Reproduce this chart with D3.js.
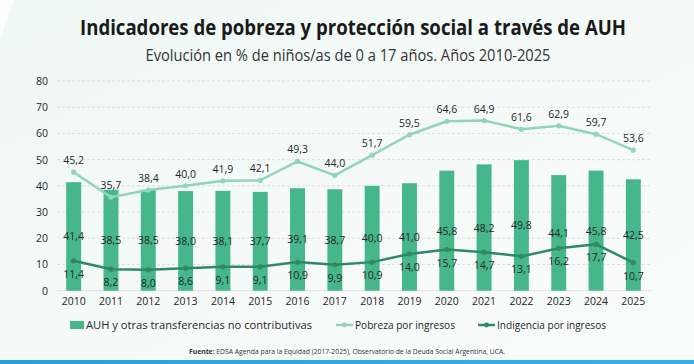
<!DOCTYPE html>
<html><head><meta charset="utf-8">
<script src="https://cdn.jsdelivr.net/npm/d3@7"></script>
<style>
html,body{margin:0;padding:0;background:#fff;}
svg{display:block;font-family:"Open Sans",sans-serif;}
</style></head>
<body><svg id="c" width="694" height="364"></svg>
<script>
const years = ["2010","2011","2012","2013","2014","2015","2016","2017","2018","2019","2020","2021","2022","2023","2024","2025"];
const auh = [41.4,38.5,38.5,38.0,38.1,37.7,39.1,38.7,40.0,41.0,45.8,48.2,49.8,44.1,45.8,42.5];
const pobreza = [45.2,35.7,38.4,40.0,41.9,42.1,49.3,44.0,51.7,59.5,64.6,64.9,61.6,62.9,59.7,53.6];
const indigencia = [11.4,8.2,8.0,8.6,9.1,9.1,10.9,9.9,10.9,14.0,15.7,14.7,13.1,16.2,17.7,10.7];
const yTicks = [0,10,20,30,40,50,60,70,80];
const title = "Indicadores de pobreza y protección social a través de AUH";
const subtitle = "Evolución en % de niños/as de 0 a 17 años. Años 2010-2025";
const seriesNames = ["AUH y otras transferencias no contributivas","Pobreza por ingresos","Indigencia por ingresos"];

const svg = d3.select("#c");
const W = 694, H = 364;
const cBar = "#46b68b", cPob = "#92d5b8", cInd = "#2f8a63", cText = "#262626";
const fmt = v => v.toFixed(1).replace(".", ",");

// background
const defs = svg.append("defs");
const g1 = defs.append("linearGradient").attr("id","bg").attr("x1","0").attr("y1","0").attr("x2","1").attr("y2","1");
g1.append("stop").attr("offset","0").attr("stop-color","#eef8f4");
g1.append("stop").attr("offset","0.5").attr("stop-color","#f5faf8");
g1.append("stop").attr("offset","1").attr("stop-color","#fafcfc");
svg.append("rect").attr("width",W).attr("height",H).attr("fill","url(#bg)");
svg.append("path").attr("d","M0,0 L14,0 L0,40 Z").attr("fill","#ffffff").attr("opacity",0.8);
const g2 = defs.append("linearGradient").attr("id","strip").attr("x1","0").attr("x2","1");
g2.append("stop").attr("offset","0").attr("stop-color","#2aa0d6");
g2.append("stop").attr("offset","1").attr("stop-color","#39b0e0");
svg.append("rect").attr("x",0).attr("y",360).attr("width",W).attr("height",4).attr("fill","url(#strip)");

// titles
svg.append("text").attr("x",353).attr("y",35).attr("text-anchor","middle")
  .attr("font-size",21).attr("font-weight",700).attr("fill","#1a1a1a")
  .attr("textLength",546).attr("lengthAdjust","spacingAndGlyphs").text(title);
svg.append("text").attr("x",348).attr("y",61).attr("text-anchor","middle")
  .attr("font-size",16).attr("fill","#333")
  .attr("textLength",405).attr("lengthAdjust","spacingAndGlyphs").text(subtitle);

// scales
const x = d3.scaleBand().domain(years).range([55,652]).paddingInner(0.6).paddingOuter(0.3);
const y = d3.scaleLinear().domain([0,80]).range([290.7,81]);

// grid
svg.append("g").selectAll("line").data(yTicks.filter(d=>d>0)).join("line")
  .attr("x1",57).attr("x2",652).attr("y1",d=>y(d)).attr("y2",d=>y(d))
  .attr("stroke","#d6d9d8").attr("stroke-width",0.8).attr("stroke-dasharray","3,2");
svg.append("line").attr("x1",57).attr("x2",652).attr("y1",y(0)).attr("y2",y(0))
  .attr("stroke","#d9d9d9").attr("stroke-width",0.8);

// y axis
const ya = svg.append("g").attr("transform","translate(48,0)")
  .call(d3.axisLeft(y).tickValues(yTicks).tickSize(0).tickPadding(0));
ya.select(".domain").remove();
ya.selectAll("text").attr("font-size",10.5).attr("fill",cText).attr("font-family","Open Sans");

// x axis
const xa = svg.append("g").attr("transform","translate(0,298)")
  .call(d3.axisBottom(x).tickSize(0).tickPadding(0));
xa.select(".domain").remove();
xa.selectAll("text").attr("font-size",10.5).attr("fill",cText).attr("font-family","Open Sans");

// bars
svg.append("g").selectAll("rect").data(auh).join("rect")
  .attr("x",(d,i)=>x(years[i])).attr("width",x.bandwidth())
  .attr("y",d=>y(d)).attr("height",d=>y(0)-y(d)).attr("fill",cBar);

const cx = i => x(years[i]) + x.bandwidth()/2;
const line = d3.line().x((d,i)=>cx(i)).y(d=>y(d));

// pobreza line
svg.append("path").datum(pobreza).attr("d",line).attr("fill","none").attr("stroke",cPob).attr("stroke-width",2.5);
svg.append("g").selectAll("circle").data(pobreza).join("circle")
  .attr("cx",(d,i)=>cx(i)).attr("cy",d=>y(d)).attr("r",2.6).attr("fill",cPob);
// indigencia line
svg.append("path").datum(indigencia).attr("d",line).attr("fill","none").attr("stroke",cInd).attr("stroke-width",2.5);
svg.append("g").selectAll("circle").data(indigencia).join("circle")
  .attr("cx",(d,i)=>cx(i)).attr("cy",d=>y(d)).attr("r",2.6).attr("fill",cInd);

// labels
const lab = (data, dy) => svg.append("g").selectAll("text").data(data).join("text")
  .attr("x",(d,i)=>cx(i)).attr("y",d=>dy(d)).attr("text-anchor","middle")
  .attr("font-size",10.5).attr("fill",cText).text(fmt);
lab(auh, d => (y(0)+y(d))/2 + 4);
lab(pobreza, d => y(d) - 8);
lab(indigencia, d => y(d) + 17);

// legend
const lg = svg.append("g");
lg.append("rect").attr("x",70).attr("y",321).attr("width",14).attr("height",8).attr("fill",cBar);
lg.append("text").attr("x",86).attr("y",329).attr("font-size",11.5).attr("fill",cText)
  .attr("textLength",226).attr("lengthAdjust","spacingAndGlyphs").text(seriesNames[0]);
lg.append("line").attr("x1",336).attr("x2",353).attr("y1",325).attr("y2",325).attr("stroke",cPob).attr("stroke-width",2.5);
lg.append("circle").attr("cx",344.5).attr("cy",325).attr("r",2.4).attr("fill",cPob);
lg.append("text").attr("x",355).attr("y",329).attr("font-size",11.5).attr("fill",cText)
  .attr("textLength",100).attr("lengthAdjust","spacingAndGlyphs").text(seriesNames[1]);
lg.append("line").attr("x1",478).attr("x2",495).attr("y1",325).attr("y2",325).attr("stroke",cInd).attr("stroke-width",2.5);
lg.append("circle").attr("cx",486.5).attr("cy",325).attr("r",2.4).attr("fill",cInd);
lg.append("text").attr("x",497).attr("y",329).attr("font-size",11.5).attr("fill",cText)
  .attr("textLength",109).attr("lengthAdjust","spacingAndGlyphs").text(seriesNames[2]);

// source
const src = svg.append("text").attr("x",347).attr("y",354).attr("text-anchor","middle")
  .attr("font-size",6.5).attr("fill","#333").attr("textLength",316).attr("lengthAdjust","spacingAndGlyphs");
src.append("tspan").attr("font-weight",700).text("Fuente:");
src.append("tspan").text(" EDSA Agenda para la Equidad (2017-2025), Observatorio de la Deuda Social Argentina, UCA.");
</script></body></html>
